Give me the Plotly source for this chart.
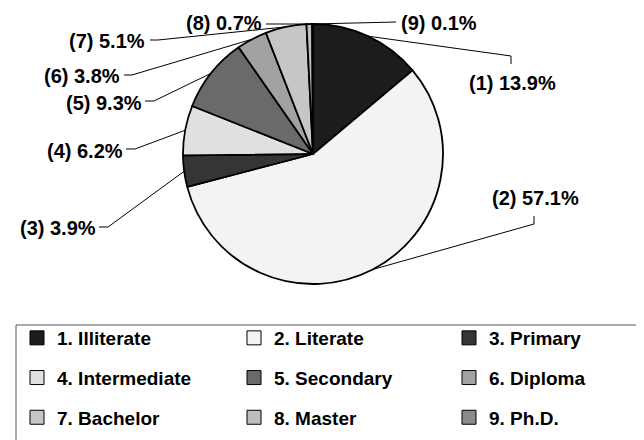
import math
import plotly.graph_objects as go

# ---- data ----
categories = ["1. Illiterate", "2. Literate", "3. Primary", "4. Intermediate",
              "5. Secondary", "6. Diploma", "7. Bachelor", "8. Master", "9. Ph.D."]
shares = [13.9, 57.1, 3.9, 6.2, 9.3, 3.8, 5.1, 0.7, 0.1]

# ---- styles ----
colors = ["#1c1c1c", "#f3f3f3", "#353535", "#e0e0e0", "#6a6a6a",
          "#a2a2a2", "#c6c6c6", "#bdbdbd", "#8a8a8a"]
FONT = "Liberation Sans, Arial, sans-serif"
W, H = 644, 440

# pie geometry (pixels)
CX, CY, R = 305, 146, 130

def px(x):
    return x / W

def py(y):
    return 1 - y / H

# label layout: (x, y, anchor) and leader elbow points in pixels
label_layout = [
    (459, 75, "left"), (482, 190, "left"), (90, 220, "right"),
    (117, 143, "right"), (136, 95, "right"), (114, 68, "right"),
    (139, 33, "right"), (256, 15, "right"), (391, 15, "left"),
]
leader_tail = [
    [(503, 48), (503, 56)],
    [(526, 216), (526, 208)],
    [(100, 219), (91, 219)],
    [(127, 141), (118, 141)],
    [(146, 93), (137, 93)],
    [(124, 67), (116, 67)],
    [(150, 32), (142, 32)],
    [(258, 16)],
    [(388, 14)],
]

fig = go.Figure()
fig.add_trace(go.Pie(
    values=shares, labels=categories, sort=False, direction="clockwise",
    rotation=0, textinfo="none", showlegend=False,
    marker=dict(colors=colors, line=dict(color="black", width=1.8)),
    domain=dict(x=[px(CX - R), px(CX + R)], y=[py(CY + R), py(CY - R)]),
))

# legend proxies: three columns, one legend each
cols = [[0, 3, 6], [1, 4, 7], [2, 5, 8]]
legend_names = ["legend", "legend2", "legend3"]
for ci, idxs in enumerate(cols):
    for i in idxs:
        fig.add_trace(go.Scatter(
            x=[None], y=[None], mode="markers", name=categories[i],
            legend=legend_names[ci], legendgroup=categories[i],
            marker=dict(symbol="square", size=14, color=colors[i],
                        line=dict(color="black", width=1)),
        ))

total = sum(shares)
shapes = []
annotations = []
cum = 0.0
for i, v in enumerate(shares):
    mid = (cum + v / 2) / total * 2 * math.pi
    cum += v
    ex = CX + R * math.sin(mid)
    ey = CY - R * math.cos(mid)
    pts = [(ex, ey)] + leader_tail[i]
    path = "M " + " L ".join(f"{px(a):.5f},{py(b):.5f}" for a, b in pts)
    shapes.append(dict(type="path", path=path, xref="paper", yref="paper",
                       line=dict(color="black", width=1)))
    lx, ly, anc = label_layout[i]
    annotations.append(dict(
        x=px(lx), y=py(ly), xref="paper", yref="paper", showarrow=False,
        xanchor=anc, yanchor="middle", text=f"({i + 1}) {v:.1f}%",
        font=dict(family=FONT, size=20, color="black", weight="bold"),
    ))

# legend frame
shapes.append(dict(type="rect", xref="paper", yref="paper",
                   x0=px(8), x1=px(643.5), y0=py(438), y1=py(317),
                   line=dict(color="#555555", width=1), fillcolor="rgba(0,0,0,0)"))

legend_common = dict(
    orientation="v", bgcolor="rgba(0,0,0,0)", borderwidth=0,
    font=dict(family=FONT, size=19, color="black", weight="bold"),
    xanchor="left", yanchor="top", tracegroupgap=12, itemclick=False,
    itemdoubleclick=False,
)
col_x = [9, 226, 441]
fig.update_layout(
    width=W, height=H, margin=dict(l=0, r=0, t=0, b=0),
    paper_bgcolor="white", plot_bgcolor="white",
    xaxis=dict(visible=False), yaxis=dict(visible=False),
    shapes=shapes, annotations=annotations,
    legend=dict(x=px(col_x[0]), y=py(311), **legend_common),
    legend2=dict(x=px(col_x[1]), y=py(311), **legend_common),
    legend3=dict(x=px(col_x[2]), y=py(311), **legend_common),
)
fig.write_html("out.html")
